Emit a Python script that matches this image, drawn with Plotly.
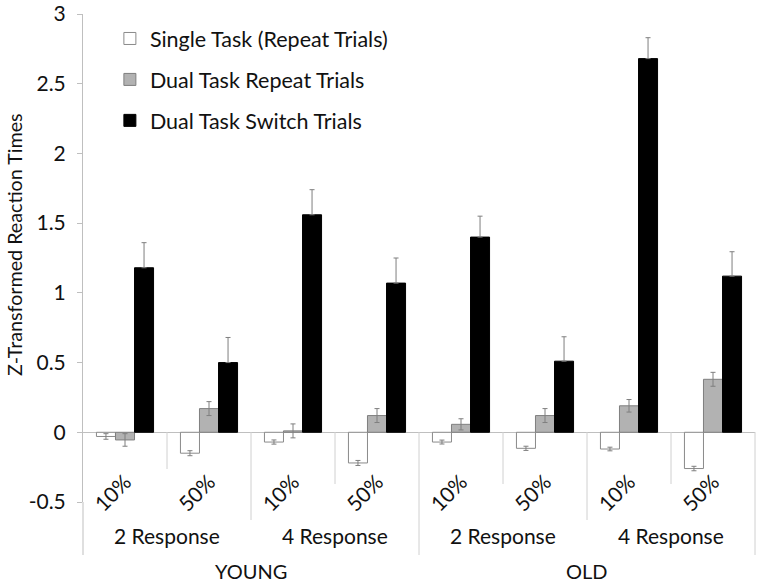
import plotly.graph_objects as go

# --- data ---
groups = ["Y-2-10", "Y-2-50", "Y-4-10", "Y-4-50", "O-2-10", "O-2-50", "O-4-10", "O-4-50"]
pct_labels = ["10%", "50%", "10%", "50%", "10%", "50%", "10%", "50%"]
response_labels = ["2 Response", "4 Response", "2 Response", "4 Response"]
age_labels = ["YOUNG", "OLD"]

single_task = [-0.03, -0.15, -0.07, -0.22, -0.07, -0.115, -0.12, -0.26]
single_err = [0.02, 0.018, 0.015, 0.018, 0.014, 0.015, 0.013, 0.016]

dual_repeat = [-0.055, 0.17, 0.01, 0.12, 0.057, 0.12, 0.19, 0.38]
dual_repeat_err = [0.045, 0.05, 0.05, 0.05, 0.04, 0.05, 0.045, 0.05]

dual_switch = [1.18, 0.50, 1.56, 1.07, 1.40, 0.51, 2.68, 1.12]
dual_switch_err = [0.18, 0.18, 0.18, 0.18, 0.15, 0.175, 0.15, 0.175]

FONT = "Lato"
TEXT = "#111111"
ERR = "#7f7f7f"
DIV = "#d0d0d0"

W, H = 760, 585
T, B, L, R = 14, 83, 83, 5
PLOT_BOTTOM = H - B
PLOT_H = H - T - B


def py(pixel):
    # page pixel row -> paper y
    return (PLOT_BOTTOM - pixel) / PLOT_H


fig = go.Figure()

fig.add_trace(go.Bar(
    x=groups, y=single_task, name="Single Task (Repeat Trials)",
    legendgroup="a",
    marker=dict(color="white", line=dict(color="#8a8a8a", width=1)),
    error_y=dict(type="data", array=single_err, color=ERR, thickness=1, width=2.5),
))
fig.add_trace(go.Bar(
    x=groups, y=dual_repeat, name="Dual Task Repeat Trials",
    legendgroup="b",
    marker=dict(color="#b2b2b2", line=dict(color="#7f7f7f", width=1)),
    error_y=dict(type="data", array=dual_repeat_err, color=ERR, thickness=1, width=2.5),
))
fig.add_trace(go.Bar(
    x=groups, y=dual_switch, name="Dual Task Switch Trials",
    legendgroup="c",
    marker=dict(color="black", line=dict(color="black", width=1)),
    error_y=dict(type="data", symmetric=False, array=dual_switch_err,
                 arrayminus=[0] * len(groups), color=ERR, thickness=1, width=2.5),
))

# category labels (three levels)
annotations = []
for i, lab in enumerate(pct_labels):
    annotations.append(dict(
        x=i, y=py(519), xref="x", yref="paper", text=lab, showarrow=False,
        textangle=-45, xshift=-13, font=dict(family=FONT, size=21, color=TEXT),
    ))
for j, lab in enumerate(response_labels):
    annotations.append(dict(
        x=2 * j + 0.5, y=py(550), xref="x", yref="paper", text=lab, showarrow=False,
        font=dict(family=FONT, size=21, color=TEXT),
    ))
for k, lab in enumerate(age_labels):
    annotations.append(dict(
        x=4 * k + 1.5, y=py(585), xref="x", yref="paper", text=lab, showarrow=False,
        font=dict(family=FONT, size=20, color=TEXT),
    ))

# y axis title, a little above the plot centre like the original
annotations.append(dict(
    x=(14 - L) / (W - L - R), y=py(245), xref="paper", yref="paper",
    xanchor="center", yanchor="middle",
    text="Z-Transformed Reaction Times", showarrow=False, textangle=-90,
    font=dict(family=FONT, size=19.7, color=TEXT),
))

# divider lines under the category axis
zero_y = py(432)
shapes = []
short_ends = [469, 484, 484, 484]
for n, i in enumerate([0.5, 2.5, 4.5, 6.5]):
    shapes.append(dict(type="line", xref="x", yref="paper", x0=i, x1=i,
                       y0=zero_y, y1=py(short_ends[n]),
                       line=dict(color=DIV, width=1)))
for i in [1.5, 5.5]:
    shapes.append(dict(type="line", xref="x", yref="paper", x0=i, x1=i,
                       y0=zero_y, y1=py(520), line=dict(color=DIV, width=1)))
shapes.append(dict(type="line", xref="x", yref="paper", x0=3.5, x1=3.5,
                   y0=zero_y, y1=py(555), line=dict(color=DIV, width=1)))
shapes.append(dict(type="line", xref="paper", yref="paper", x0=0, x1=0,
                   y0=0, y1=py(555), line=dict(color="#bfbfbf", width=1)))
shapes.append(dict(type="line", xref="paper", yref="paper", x0=1, x1=1,
                   y0=zero_y, y1=py(555), line=dict(color=DIV, width=1)))

fig.update_layout(
    width=W, height=H,
    margin=dict(l=L, r=R, t=T, b=B),
    paper_bgcolor="white", plot_bgcolor="white",
    barmode="group", bargap=0.32, bargroupgap=0,
    font=dict(family=FONT, size=20, color=TEXT),
    showlegend=True,
    legend=dict(
        x=0.04, y=py(18), xanchor="left", yanchor="top",
        bgcolor="rgba(0,0,0,0)", tracegroupgap=10,
        font=dict(family=FONT, size=21.5, color=TEXT),
        traceorder="grouped",
    ),
    annotations=annotations,
    shapes=shapes,
)

fig.update_xaxes(
    type="category", range=[-0.5, 7.5], showticklabels=False,
    showgrid=False, showline=False, zeroline=False, ticks="",
    automargin=False,
)
fig.update_yaxes(
    range=[-0.5, 3], tickvals=[-0.5, 0, 0.5, 1, 1.5, 2, 2.5, 3],
    ticktext=["-0.5", "0", "0.5", "1", "1.5", "2", "2.5", "3"],
    showgrid=False, zeroline=True, zerolinecolor="#bfbfbf", zerolinewidth=1,
    showline=True, linecolor="#bfbfbf", linewidth=1,
    ticks="outside", ticklen=5, tickcolor="#bfbfbf",
    ticklabelstandoff=7, ticklabeloverflow="allow", automargin=False,
    tickfont=dict(family=FONT, size=21, color=TEXT),
)

# the page's default body margin would shift the figure by 8px
fig.write_html("out.html", config={"displayModeBar": False},
               post_script="document.body.style.margin = '0';")
